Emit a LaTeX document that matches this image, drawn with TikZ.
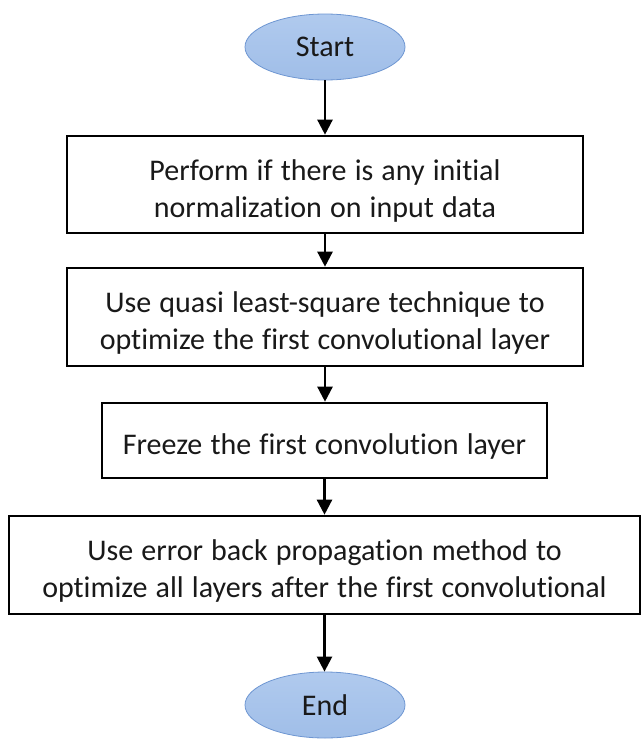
\documentclass[tikz,border=0pt]{standalone}
\usepackage{fontspec}
\setmainfont{Carlito}[Ligatures=NoCommon, WordSpace=1.2]
\usetikzlibrary{shapes.geometric,arrows.meta}
\definecolor{ellfill}{RGB}{160,190,232}
\definecolor{ellfilltop}{RGB}{176,202,238}
\definecolor{elldraw}{RGB}{110,150,210}
\definecolor{txt}{RGB}{25,25,25}
\tikzset{
  term/.style={ellipse, draw=elldraw, line width=0.8pt, top color=ellfilltop, bottom color=ellfill,
    minimum width=160pt, minimum height=66pt, inner sep=0pt, text=txt, font=\fontsize{30}{36}\selectfont},
  procbox/.style={rectangle, draw=black, line width=2.6pt, fill=white, inner sep=0pt},
  proctext/.style={inner sep=0pt, align=center, text=txt, font=\fontsize{30}{37}\selectfont},
  flow/.style={line width=2.4pt, -{Triangle[length=15pt,width=15pt]}}
}
\begin{document}
\begin{tikzpicture}[x=1pt,y=-1pt]
\useasboundingbox (0,0) rectangle (642,747);
\node[term] (start) at (325,47) {Start};
\node[procbox, minimum width=516pt, minimum height=97pt] (b1) at (325,184.5) {};
\node[proctext] (t1) at ([yshift=-6pt]b1.center)
  {Perform if there is any initial\\normalization on input data};
\node[procbox, minimum width=516pt, minimum height=98pt] (b2) at (325,317) {};
\node[proctext] (t2) at ([yshift=-6pt]b2.center)
  {Use quasi least-square technique to\\optimize the first convolutional layer};
\node[procbox, minimum width=445pt, minimum height=75pt] (b3) at (324.5,440.5) {};
\node[proctext] (t3) at ([yshift=-6pt]b3.center)
  {Freeze the first convolution layer};
\node[procbox, minimum width=631pt, minimum height=98pt] (b4) at (324.5,565) {};
\node[proctext] (t4) at ([yshift=-6pt]b4.center)
  {Use error back propagation method to\\optimize all layers after the first convolutional};
\node[term] (end) at (325,705) {End};
\draw[flow] (start.south) -- (start.south |- b1.north);
\draw[flow] (b1.south) -- (b1.south |- b2.north);
\draw[flow] (b2.south) -- (b2.south |- b3.north);
\draw[flow] (b3.south) -- (b3.south |- b4.north);
\draw[flow] (b4.south) -- (b4.south |- end.north);
\end{tikzpicture}
\end{document}
